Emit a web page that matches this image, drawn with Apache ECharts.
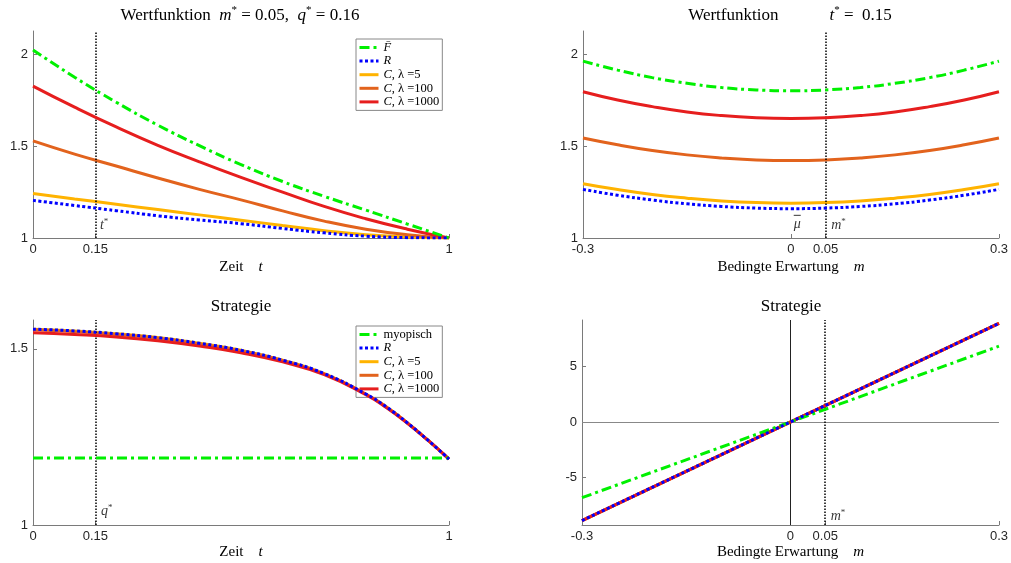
<!DOCTYPE html>
<html><head><meta charset="utf-8">
<script src="https://cdn.jsdelivr.net/npm/echarts@6/dist/echarts.min.js"></script>
<style>html,body{margin:0;padding:0;background:#fff}#c{width:1011px;height:563px}</style>
</head><body><div id="c"></div>
<script>
// ---------- data ----------
// Panel 1: Wertfunktion vs Zeit t
const tVals = [0,0.1,0.2,0.3,0.4,0.5,0.6,0.7,0.8,0.9,1.0];
const F_t     = [2.025,1.876,1.740,1.615,1.503,1.400,1.308,1.227,1.152,1.076,1.000];
const R_t     = [1.205,1.177,1.149,1.121,1.098,1.078,1.052,1.028,1.010,1.002,1.000];
const C5_t    = [1.243,1.213,1.184,1.155,1.126,1.097,1.068,1.040,1.018,1.006,1.000];
const C100_t  = [1.529,1.457,1.392,1.327,1.265,1.208,1.148,1.092,1.048,1.018,1.000];
const C1000_t = [1.828,1.713,1.605,1.505,1.415,1.330,1.250,1.172,1.105,1.048,1.000];
// Panel 2: Wertfunktion vs bedingte Erwartung m
const mVals = [-0.3,-0.25,-0.2,-0.15,-0.1,-0.05,0,0.05,0.1,0.15,0.2,0.25,0.3];
const F_m     = [1.964,1.915,1.874,1.843,1.820,1.807,1.802,1.807,1.820,1.843,1.874,1.915,1.964];
const C1000_m = [1.797,1.752,1.716,1.687,1.667,1.655,1.651,1.655,1.667,1.687,1.716,1.752,1.797];
const C100_m  = [1.545,1.508,1.477,1.453,1.436,1.425,1.422,1.425,1.436,1.453,1.477,1.508,1.545];
const C5_m    = [1.296,1.264,1.237,1.217,1.202,1.193,1.190,1.193,1.202,1.217,1.237,1.264,1.296];
const R_m     = [1.265,1.233,1.207,1.186,1.172,1.163,1.160,1.163,1.172,1.186,1.207,1.233,1.265];
// Panel 3: Strategie vs Zeit t
const tVals2 = [0,0.1,0.2,0.3,0.4,0.5,0.6,0.7,0.8,0.85,0.9,0.95,1.0];
const R_s     = [1.556,1.551,1.543,1.532,1.516,1.496,1.468,1.430,1.372,1.335,1.290,1.240,1.187];
const C5_s    = [1.556,1.551,1.543,1.532,1.516,1.496,1.468,1.430,1.372,1.335,1.290,1.240,1.187];
const C100_s  = [1.554,1.549,1.541,1.530,1.514,1.494,1.467,1.429,1.372,1.334,1.290,1.240,1.187];
const C1000_s = [1.546,1.541,1.534,1.523,1.508,1.489,1.463,1.427,1.370,1.333,1.289,1.240,1.187];
const tEnds = [0,1];
const myop_s = [1.19,1.19];
// Panel 4: Strategie vs m
const mEnds = [-0.3,0.3];
const R_lin = [-8.85,8.85];
const C_lin = [-8.85,8.85];
const myop_lin = [-6.8,6.8];
// ticks
const xTicksT = [0,0.15,1];
const xTicksM = [-0.3,0,0.05,0.3];
const yTicksV = [1,1.5,2];
const yTicksS = [1,1.5];
const yTicksL = [-5,0,5];

// ---------- styles ----------
const ST = {
  F:     {color:'#00f000', width:3, type:[10,4,3,4]},
  myop:  {color:'#00f000', width:3, type:[10,4,3,4]},
  R:     {color:'#0000ff', width:3, type:[3,2.5]},
  C5:    {color:'#ffb300', width:3, type:'solid'},
  C100:  {color:'#e2631d', width:3, type:'solid'},
  C1000: {color:'#e61e1e', width:3, type:'solid'}
};
const Z = {C5:3, C100:4, C1000:5, F:6, myop:6, R:7};
function pairs(xs, ys){ return xs.map((x,i)=>[x, ys[i]]); }
function line(name, gi, xs, ys, smooth){
  const s = ST[name];
  return {type:'line', name:name, xAxisIndex:gi, yAxisIndex:gi, data:pairs(xs,ys),
    symbol:'none', showSymbol:false, smooth:smooth, silent:true, z:Z[name],
    lineStyle:{color:s.color, width:s.width, type:s.type}, itemStyle:{color:s.color}};
}
const serif = 'Liberation Serif';
const labRich = {
  i:{fontFamily:serif, fontStyle:'italic', fontSize:14, lineHeight:16, color:'#000'},
  s:{fontFamily:serif, fontSize:9, lineHeight:9, verticalAlign:'top', color:'#000'},
  o:{width:7, height:1, lineHeight:2, backgroundColor:'#000', padding:[0,0,0,0]}
};
function annot(gi, pt, text, pos, vlines, dist, align){
  const lab = {show:true, position:pos, distance:dist, color:'#000', formatter:text, rich:labRich};
  if (align) lab.align = align;
  return {type:'scatter', xAxisIndex:gi, yAxisIndex:gi, data:[pt], symbolSize:1, silent:true, z:8,
    itemStyle:{color:'rgba(0,0,0,0)'},
    label:lab,
    markLine:{silent:true, symbol:['none','none'], label:{show:false}, animation:false,
      lineStyle:{color:'#000', type:[1.5,1.5], width:1.5},
      data: vlines.map(v=>({xAxis:v}))}};
}
const axisCol = '#7a7a7a';
const nameRich = {
  n:{fontFamily:serif, fontSize:15, color:'#000'},
  i:{fontFamily:serif, fontSize:15, fontStyle:'italic', color:'#000'}
};
function xAx(gi, min, max, ticks, name, gap){
  return {type:'value', gridIndex:gi, min:min, max:max, name:name, nameLocation:'middle', nameGap:gap,
    nameTextStyle:{fontFamily:serif, fontSize:15, color:'#000', rich:nameRich},
    axisLine:{show:true, onZero:false, lineStyle:{color:axisCol, width:1}},
    axisTick:{show:true, inside:true, length:4, customValues:ticks, lineStyle:{color:axisCol}},
    axisLabel:{customValues:ticks, margin:5, fontFamily:'Liberation Sans', fontSize:13, color:'#262626',
      formatter:v=>String(v)},
    splitLine:{show:false}};
}
function yAx(gi, min, max, ticks){
  return {type:'value', gridIndex:gi, min:min, max:max,
    axisLine:{show:true, onZero:false, lineStyle:{color:axisCol, width:1}},
    axisTick:{show:true, inside:true, length:4, customValues:ticks, lineStyle:{color:axisCol}},
    axisLabel:{customValues:ticks, margin:5, fontFamily:'Liberation Sans', fontSize:13, color:'#262626',
      formatter:v=>String(v)},
    splitLine:{show:false}};
}
const titleRich = {
  n:{fontFamily:serif, fontSize:17, lineHeight:22, color:'#000'},
  i:{fontFamily:serif, fontSize:17, lineHeight:22, fontStyle:'italic', color:'#000'},
  s:{fontFamily:serif, fontSize:11, lineHeight:11, verticalAlign:'top', color:'#000'}
};
function ttl(text, left, top){
  return {text:text, left:left, top:top, textAlign:'center', padding:0,
    textStyle:{fontFamily:serif, fontSize:17, fontWeight:'normal', color:'#000', rich:titleRich}};
}
const LEG = {F:'{i|F\u0304}', myop:'{n|myopisch}', R:'{i|R}', C5:'{i|C}{n|, \u03bb =5}',
  C100:'{i|C}{n|, \u03bb =100}', C1000:'{i|C}{n|, \u03bb =1000}'};
function leg(names, left, top){
  return {data:names, left:left, top:top, orient:'vertical', itemWidth:19, itemHeight:10, itemGap:0.6,
    padding:[2,3,2,2], borderColor:'#888', borderWidth:1, backgroundColor:'#fff', selectedMode:false,
    itemStyle:{opacity:0}, lineStyle:{width:3},
    formatter:n=>LEG[n],
    textStyle:{fontFamily:serif, fontSize:12.5, color:'#000', lineHeight:10,
      rich:{i:{fontFamily:serif, fontSize:12.5, lineHeight:10, fontStyle:'italic', color:'#000'},
            n:{fontFamily:serif, fontSize:12.5, lineHeight:10, color:'#000'}}}};
}

const option = {
  animation:false,
  backgroundColor:'#fff',
  title:[
    ttl('{n|Wertfunktion}  {i|m}{s|*}{n| = 0.05,}  {i|q}{s|*}{n| = 0.16}', 240, 5),
    ttl('{n|Wertfunktion}            {i|t}{s|*}{n| =  0.15}', 790, 5),
    ttl('{n|Strategie}', 241, 296),
    ttl('{n|Strategie}', 791, 296)
  ],
  legend:[
    leg(['F','R','C5','C100','C1000'], 356, 39),
    leg(['myop','R','C5','C100','C1000'], 356, 326)
  ],
  grid:[
    {left:33, top:31, width:416, height:207},
    {left:583, top:31, width:417, height:207},
    {left:33, top:320, width:416, height:205},
    {left:582, top:320, width:418, height:205}
  ],
  xAxis:[
    xAx(0, 0, 1, xTicksT, '{n|Zeit}    {i|t}', 22),
    xAx(1, -0.3, 0.3, xTicksM, '{n|Bedingte Erwartung}    {i|m}', 22),
    xAx(2, 0, 1, xTicksT, '{n|Zeit}    {i|t}', 20),
    xAx(3, -0.3, 0.3, xTicksM, '{n|Bedingte Erwartung}    {i|m}', 20)
  ],
  yAxis:[
    yAx(0, 1, 2.128, yTicksV),
    yAx(1, 1, 2.128, yTicksV),
    yAx(2, 1, 1.582, yTicksS),
    yAx(3, -9.25, 9.15, yTicksL)
  ],
  series:[
    // panel 1
    line('C5',0,tVals,C5_t,true), line('C100',0,tVals,C100_t,true), line('C1000',0,tVals,C1000_t,true),
    line('F',0,tVals,F_t,true), line('R',0,tVals,R_t,true),
    annot(0,[0.15,1.068],'{i|t}{s|*}','right',[0.15],4),
    // panel 2
    line('C5',1,mVals,C5_m,true), line('C100',1,mVals,C100_m,true), line('C1000',1,mVals,C1000_m,true),
    line('F',1,mVals,F_m,true), line('R',1,mVals,R_m,true),
    annot(1,[0.05,1.068],'{i|m}{s|*}','right',[0.05],5),
    annot(1,[0.009,1.08],'{o|}\n{i|\u03bc}','inside',[],0,'center'),
    // panel 3
    line('C5',2,tVals2,C5_s,true), line('C100',2,tVals2,C100_s,true), line('C1000',2,tVals2,C1000_s,true),
    line('myop',2,tEnds,myop_s,false), line('R',2,tVals2,R_s,true),
    annot(2,[0.15,1.04],'{i|q}{s|*}','right',[0.15],5),
    // panel 4
    {type:'scatter', xAxisIndex:3, yAxisIndex:3, data:[], silent:true, z:1,
      markLine:{silent:true, symbol:['none','none'], label:{show:false}, animation:false,
        data:[{xAxis:0, lineStyle:{color:'#222', type:'solid', width:1}},
              {yAxis:0, lineStyle:{color:'#888', type:'solid', width:1}}]}},
    line('C5',3,mEnds,C_lin,false), line('C100',3,mEnds,C_lin,false), line('C1000',3,mEnds,C_lin,false),
    line('myop',3,mEnds,myop_lin,false), line('R',3,mEnds,R_lin,false),
    annot(3,[0.05,-8.45],'{i|m}{s|*}','right',[0.05],5)
  ]
};
const chart = echarts.init(document.getElementById('c'), null, {renderer:'canvas'});
chart.setOption(option);
</script></body></html>
